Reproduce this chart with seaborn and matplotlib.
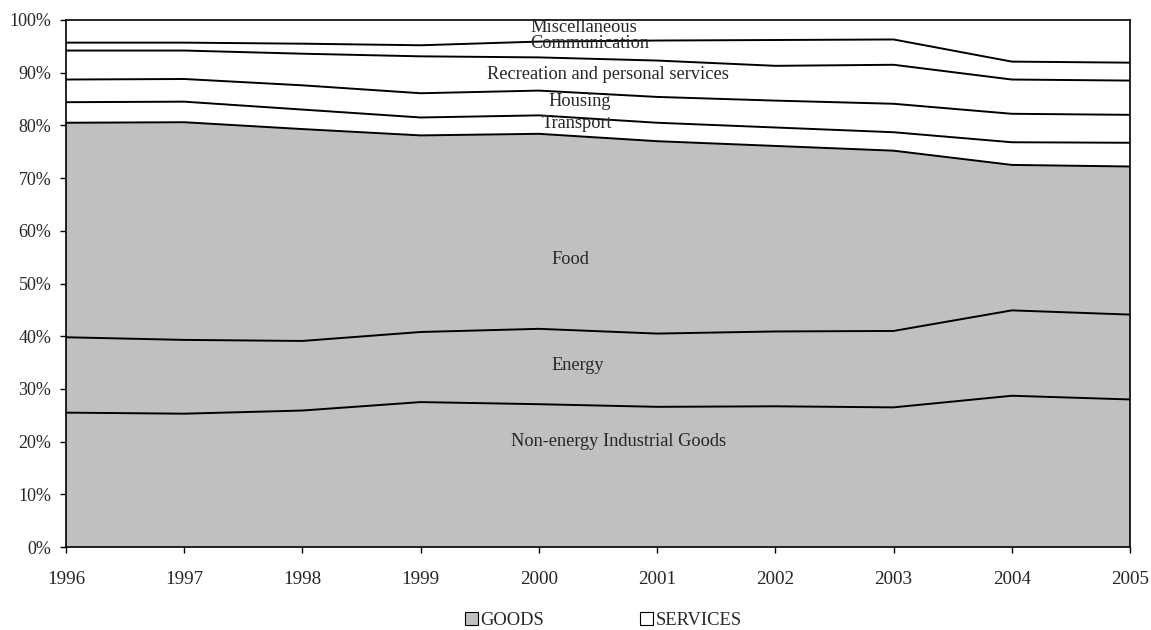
import numpy as np
import pandas as pd
import matplotlib
matplotlib.use("Agg")
import matplotlib.pyplot as plt
from matplotlib.patches import Patch
from matplotlib.ticker import PercentFormatter
import seaborn as sns

years = [1996, 1997, 1998, 1999, 2000, 2001, 2002, 2003, 2004, 2005]

# shares (%) of each category, stacked bottom to top
non_energy_goods = [25.5, 25.3, 25.9, 27.5, 27.1, 26.6, 26.7, 26.5, 28.7, 28.0]
energy = [14.3, 14.0, 13.2, 13.3, 14.3, 13.9, 14.2, 14.5, 16.2, 16.1]
food = [40.7, 41.3, 40.2, 37.3, 37.0, 36.5, 35.2, 34.2, 27.6, 28.1]
transport = [3.9, 3.9, 3.7, 3.4, 3.5, 3.5, 3.5, 3.5, 4.3, 4.5]
housing = [4.3, 4.3, 4.6, 4.6, 4.7, 4.9, 5.1, 5.4, 5.4, 5.3]
recreation = [5.5, 5.4, 6.0, 7.0, 6.3, 6.9, 6.6, 7.4, 6.5, 6.5]
communication = [1.5, 1.5, 1.9, 2.1, 3.0, 3.8, 4.9, 4.8, 3.4, 3.4]
miscellaneous = [4.3, 4.3, 4.5, 4.8, 4.1, 3.9, 3.8, 3.7, 7.9, 8.1]

series_names = ["Non-energy Industrial Goods", "Energy", "Food", "Transport",
                "Housing", "Recreation and personal services", "Communication",
                "Miscellaneous"]
series_vals = [non_energy_goods, energy, food, transport, housing, recreation,
               communication, miscellaneous]
is_goods = [True, True, True, False, False, False, False, False]

# label placement (year position, % height)
label_x = [2000.674, 2000.327, 2000.264, 2000.323, 2000.349, 2000.581,
           2000.433, 2000.382]
label_y = [20.0, 34.5, 54.6, 80.3, 84.6, 89.6, 95.5, 98.5]

legend_labels = ["GOODS", "SERVICES"]

sns.set_style("white")
plt.rcParams["font.family"] = ["Liberation Serif", "DejaVu Serif"]
plt.rcParams["font.size"] = 13

fig = plt.figure(figsize=(11.51, 6.30), dpi=100)
ax = fig.add_axes([0.0573, 0.1317, 0.9245, 0.8366])

goods_col = "#C0C0C0"
cum = np.zeros(len(years))
records = []
for name, vals, g in zip(series_names, series_vals, is_goods):
    top = cum + np.array(vals)
    ax.fill_between(years, cum, top, facecolor=goods_col if g else "white",
                    edgecolor="none", linewidth=0)
    if name != series_names[-1]:
        for y, v in zip(years, top):
            records.append({"year": y, "value": v, "series": name})
    cum = top

df = pd.DataFrame(records)
sns.lineplot(data=df, x="year", y="value", units="series", estimator=None,
             color="black", linewidth=1.4, legend=False, ax=ax)

for name, lx, ly in zip(series_names, label_x, label_y):
    ax.text(lx, ly, name, ha="center", va="center", fontsize=13.2)

ax.set_xlim(years[0], years[-1])
ax.set_ylim(0, 100)
ax.set_xticks(years)
ax.set_xticklabels([str(y) for y in years])
ax.set_yticks(np.arange(0, 101, 10))
ax.yaxis.set_major_formatter(PercentFormatter(decimals=0))
ax.set_xlabel("")
ax.set_ylabel("")
for s in ax.spines.values():
    s.set_color("black")
    s.set_linewidth(1.2)
ax.tick_params(axis="both", which="major", direction="out", length=4.5,
               width=1, color="black", left=True, bottom=True)
ax.tick_params(axis="x", pad=13, labelsize=13.8)
ax.tick_params(axis="y", pad=6, labelsize=13)

handles = [Patch(facecolor=goods_col, edgecolor="black", linewidth=0.8),
           Patch(facecolor="white", edgecolor="black", linewidth=0.8)]
ax.legend(handles, legend_labels, loc="center",
          bbox_to_anchor=(0.505, -0.1385), ncol=2, frameon=False,
          handlelength=0.7, handleheight=0.7, handletextpad=0.15,
          columnspacing=5.2, fontsize=13.3, borderaxespad=0, borderpad=0)

fig.savefig("out.png", dpi=100)
